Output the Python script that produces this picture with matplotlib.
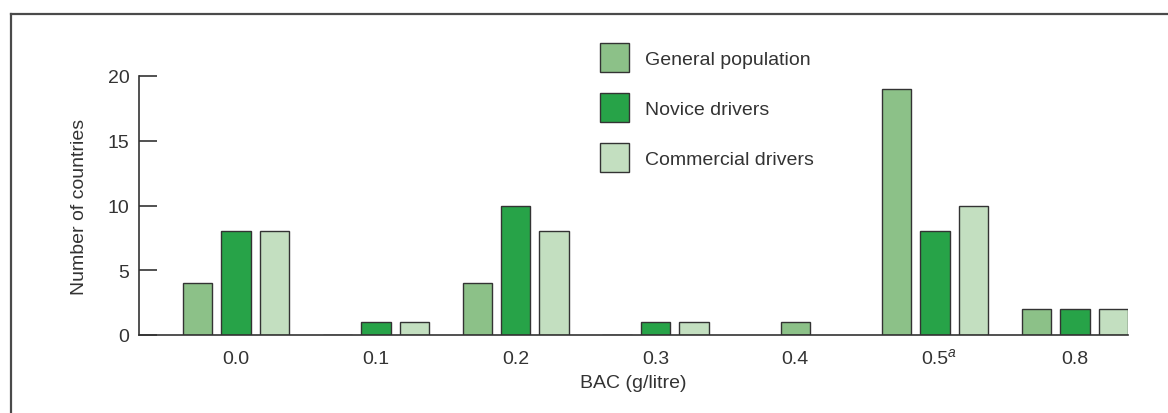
import numpy as np
import matplotlib
matplotlib.use('Agg')
import matplotlib.pyplot as plt
from matplotlib.lines import Line2D

plt.rcParams['font.family'] = ['Liberation Sans', 'DejaVu Sans']

# data
bac_labels = ['0.0', '0.1', '0.2', '0.3', '0.4', '0.5', '0.8']
footnote_at = '0.5'
series_names = ['General population', 'Novice drivers', 'Commercial drivers']
general = [4, 0, 4, 0, 1, 19, 2]
novice = [8, 1, 10, 1, 0, 8, 2]
commercial = [8, 1, 8, 1, 0, 10, 2]

colors = ['#8cc188', '#27a348', '#c3dfc0']
txt = '#333333'

fig = plt.figure(figsize=(11.68, 4.14), dpi=100)
ax = fig.add_axes([139 / 1168, 1 - 336 / 414, 989 / 1168, 259 / 414])

x = np.arange(len(bac_labels))
step = 0.275
width = 0.21
values = np.array([general, novice, commercial])

for j, (vals, name, c) in enumerate(zip(values, series_names, colors)):
    offs = np.full(len(x), (j - 1) * step)
    # a group with a single bar gets it centred
    single = (values > 0).sum(axis=0) == 1
    offs[single] = 0.0
    ax.bar(x + offs, vals, width, color=c, edgecolor=txt, linewidth=1.0,
           label=name, zorder=2)

ax.set_xlim(-0.694, 6.38)
ax.set_ylim(0, 20)
ax.set_yticks([0, 5, 10, 15, 20])
ax.set_xticks(x)
ax.set_xticklabels(bac_labels)

# superscript footnote mark on 0.5
ax.annotate('a', xy=(bac_labels.index(footnote_at), 0),
            xycoords=('data', 'axes fraction'), xytext=(9, -7),
            textcoords='offset points', fontsize=10, style='italic',
            color=txt, ha='left', va='top')

ax.spines['top'].set_visible(False)
ax.spines['right'].set_visible(False)
for s in ['left', 'bottom']:
    ax.spines[s].set_color(txt)
    ax.spines[s].set_linewidth(1.2)

ax.tick_params(axis='y', direction='in', length=13, width=1.2, color=txt,
               labelsize=14, labelcolor=txt, pad=7)
ax.tick_params(axis='x', length=0, labelsize=14, labelcolor=txt, pad=11)

ax.set_ylabel('Number of countries', fontsize=14, color=txt, labelpad=14)
ax.set_xlabel('BAC (g/litre)', fontsize=14, color=txt, labelpad=5)

ax.legend(loc='upper left', bbox_to_anchor=(600 / 1168, 1 - 44 / 414),
          bbox_transform=fig.transFigure, frameon=False, fontsize=14,
          handlelength=1.5, handleheight=1.92, labelspacing=1.09,
          handletextpad=0.82, borderpad=0, borderaxespad=0,
          labelcolor=txt)

# outer frame (left and top only)
fig.add_artist(Line2D([10.5 / 1168, 10.5 / 1168], [0, 1 - 14.5 / 414],
                      transform=fig.transFigure, color='#4a4a4a', lw=1.6))
fig.add_artist(Line2D([10.5 / 1168, 1], [1 - 14.5 / 414, 1 - 14.5 / 414],
                      transform=fig.transFigure, color='#4a4a4a', lw=1.6))

plt.savefig('out.png', dpi=100)
